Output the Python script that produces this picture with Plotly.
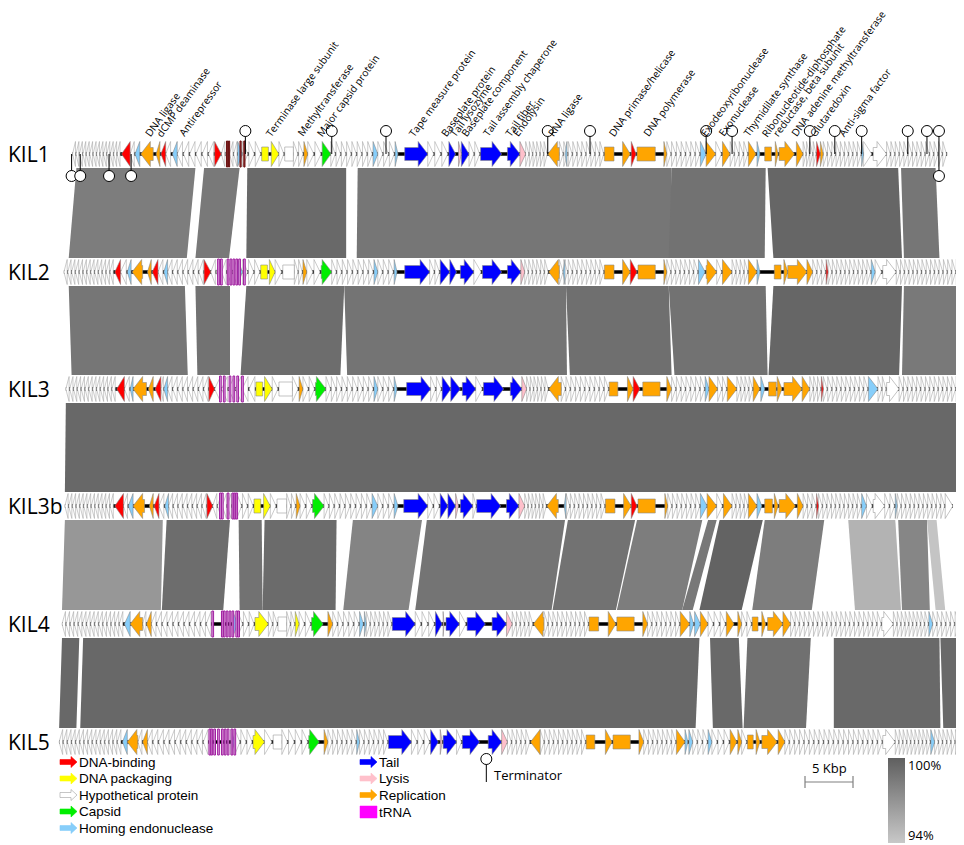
import plotly.graph_objects as go

# ---- genomes (positions in kbp) ----
genomes = ['KIL1', 'KIL2', 'KIL3', 'KIL3b', 'KIL4', 'KIL5']
genome_span = [(1.1, 92.2), (0.2, 93.6), (0.4, 93.6), (0.3, 92.8), (0.0, 93.5), (-0.3, 93.5)]

# annotated genes: (start, end, strand, category), strand 0 = drawn as box
kil1_genes = [
    (6.2, 7.1, -1, 'dna'), (7.6, 8.1, -1, 'hom'), (8.2, 9.5, -1, 'rep'), (9.8, 10.2, -1, 'rep'),
    (10.3, 10.8, -1, 'dna'), (11.5, 12.0, -1, 'hom'), (15.9, 16.6, 1, 'dna'), (18.3, 18.8, 1, 'hom'),
    (20.8, 21.5, 0, 'pack'), (21.8, 22.6, 1, 'pack'), (23.2, 24.1, 0, 'hyp'), (25.2, 25.6, 1, 'rep'),
    (27.1, 28.0, 1, 'cap'), (32.4, 32.9, 1, 'hom'), (34.7, 35.0, 1, 'hom'), (35.7, 38.1, 1, 'tail'),
    (40.3, 41.0, 1, 'tail'), (41.3, 41.6, 1, 'lys'), (41.6, 42.4, 1, 'tail'), (43.6, 45.8, 1, 'tail'),
    (46.4, 47.7, 1, 'tail'), (47.7, 48.3, 1, 'lys'), (50.6, 51.8, -1, 'rep'), (52.4, 52.6, -1, 'hom'),
    (56.5, 57.5, 0, 'rep'), (58.4, 59.2, 1, 'rep'), (59.3, 59.8, 1, 'dna'), (59.9, 61.8, 0, 'rep'),
    (62.7, 63.0, 1, 'rep'), (66.5, 67.1, 1, 'hom'), (67.1, 68.1, 1, 'rep'), (68.8, 69.6, 1, 'rep'),
    (71.5, 72.3, 1, 'rep'), (72.4, 72.7, 1, 'hom'), (73.2, 73.9, 0, 'rep'), (74.3, 74.6, 1, 'rep'),
    (74.7, 76.3, 1, 'rep'), (76.5, 77.2, 1, 'rep'), (78.6, 79.0, 1, 'dna'), (79.0, 79.3, 1, 'rep'),
    (83.3, 83.5, 1, 'hom'), (84.5, 85.9, 1, 'hyp'),
]
kil2_genes = [
    (5.5, 6.1, -1, 'dna'), (6.8, 7.2, -1, 'hom'), (7.3, 8.4, -1, 'rep'), (8.9, 9.3, -1, 'rep'),
    (9.4, 10.0, -1, 'dna'), (10.6, 11.0, -1, 'hom'), (14.8, 15.5, 1, 'dna'), (18.3, 18.8, 1, 'hom'),
    (20.7, 21.4, 0, 'pack'), (21.6, 22.2, 1, 'pack'), (23.0, 24.2, 0, 'hyp'), (25.1, 25.5, 1, 'rep'),
    (27.0, 28.1, 1, 'cap'), (32.5, 32.9, 1, 'hom'), (34.6, 34.9, 1, 'hom'), (35.7, 38.3, 1, 'tail'),
    (39.4, 40.4, 1, 'tail'), (40.4, 41.1, 1, 'tail'), (41.5, 42.9, 1, 'tail'), (43.8, 45.8, 1, 'tail'),
    (46.4, 47.8, 1, 'tail'), (47.8, 48.2, 1, 'lys'), (50.7, 51.8, -1, 'rep'), (52.2, 52.4, -1, 'hom'),
    (56.5, 57.5, 0, 'rep'), (58.4, 59.2, 1, 'rep'), (59.2, 59.9, 1, 'dna'), (60.0, 61.8, 0, 'rep'),
    (62.7, 63.0, 1, 'rep'), (66.3, 67.0, 1, 'hom'), (67.1, 68.2, 1, 'rep'), (68.8, 69.8, 1, 'rep'),
    (71.5, 72.4, 1, 'rep'), (72.4, 72.7, 1, 'hom'), (74.2, 74.9, 0, 'rep'), (75.2, 75.6, 1, 'rep'),
    (75.6, 77.6, 1, 'rep'), (77.6, 78.2, 1, 'rep'), (79.6, 79.8, 1, 'dna'), (84.3, 84.7, 1, 'hom'),
    (85.5, 86.9, 1, 'hyp'),
]
kil3_genes = [
    (5.7, 6.5, -1, 'dna'), (7.1, 7.4, -1, 'hom'), (7.4, 8.8, -1, 'rep'), (9.0, 9.5, -1, 'rep'),
    (9.7, 10.3, -1, 'dna'), (10.6, 11.0, -1, 'hom'), (15.3, 15.9, 1, 'dna'), (20.2, 20.9, 0, 'pack'),
    (21.1, 21.9, 1, 'pack'), (22.6, 24.0, 0, 'hyp'), (24.7, 25.1, 1, 'rep'), (26.4, 27.5, 1, 'cap'),
    (32.5, 32.9, 1, 'hom'), (34.6, 34.9, 1, 'hom'), (35.9, 38.4, 1, 'tail'), (39.6, 40.5, 1, 'tail'),
    (40.5, 41.5, 1, 'tail'), (41.7, 43.1, 1, 'tail'), (43.9, 46.0, 1, 'tail'), (46.7, 47.9, 1, 'tail'),
    (47.9, 48.4, 1, 'lys'), (50.7, 52.0, -1, 'rep'), (57.0, 57.9, 0, 'rep'), (58.9, 59.5, 1, 'rep'),
    (59.5, 60.2, 1, 'dna'), (60.5, 62.3, 0, 'rep'), (63.0, 63.5, 1, 'rep'), (67.0, 67.4, 1, 'hom'),
    (67.4, 68.3, 1, 'rep'), (69.3, 70.3, 1, 'rep'), (72.0, 72.7, 1, 'rep'), (72.8, 73.2, 1, 'hom'),
    (73.6, 74.4, 0, 'rep'), (74.5, 75.0, 1, 'rep'), (75.2, 77.1, 1, 'rep'), (77.1, 77.9, 1, 'rep'),
    (79.1, 79.3, 1, 'dna'), (84.0, 85.0, 1, 'hom'), (85.9, 87.2, 1, 'hyp'),
]
kil3b_genes = [
    (5.5, 6.4, -1, 'dna'), (6.9, 7.4, -1, 'hom'), (7.4, 8.6, -1, 'rep'), (9.1, 9.5, -1, 'rep'),
    (9.6, 10.1, -1, 'dna'), (10.7, 11.1, -1, 'hom'), (15.1, 15.7, 1, 'dna'), (17.7, 18.2, 1, 'hom'),
    (20.0, 20.7, 0, 'pack'), (21.0, 21.7, 1, 'pack'), (22.4, 23.4, 0, 'hyp'), (24.4, 24.8, 1, 'rep'),
    (26.1, 27.3, 1, 'cap'), (32.3, 32.9, 1, 'hom'), (34.6, 35.0, 1, 'hom'), (35.6, 38.1, 1, 'tail'),
    (39.4, 40.2, 1, 'tail'), (40.2, 41.0, 1, 'tail'), (41.0, 41.3, 1, 'lys'), (41.5, 42.8, 1, 'tail'),
    (43.2, 45.7, 1, 'tail'), (46.3, 47.6, 1, 'tail'), (47.6, 48.2, 1, 'lys'), (50.5, 51.7, -1, 'rep'),
    (52.3, 52.5, -1, 'hom'), (56.6, 57.6, 0, 'rep'), (58.5, 59.3, 1, 'rep'), (59.3, 59.9, 1, 'dna'),
    (60.0, 61.8, 0, 'rep'), (62.8, 63.1, 1, 'rep'), (66.5, 67.2, 1, 'hom'), (67.2, 68.2, 1, 'rep'),
    (68.9, 69.8, 1, 'rep'), (71.5, 72.4, 1, 'rep'), (72.4, 72.9, 1, 'hom'), (73.2, 74.0, 0, 'rep'),
    (74.2, 74.6, 1, 'rep'), (74.7, 76.4, 1, 'rep'), (76.6, 77.2, 1, 'rep'), (78.6, 78.8, 1, 'dna'),
    (83.3, 83.8, 1, 'hom'), (84.5, 85.7, 1, 'hyp'), (86.8, 87.0, 1, 'hom'), (92.0, 92.8, 1, 'hyp'),
]
kil4_genes = [
    (6.5, 7.1, -1, 'hom'), (7.1, 8.4, -1, 'rep'), (8.8, 9.3, -1, 'rep'), (17.8, 18.3, 1, 'hom'),
    (20.1, 21.5, 1, 'pack'), (22.5, 23.4, 0, 'hyp'), (24.3, 24.7, 1, 'pack'), (26.0, 27.2, 1, 'cap'),
    (27.7, 28.2, 1, 'rep'), (31.0, 31.4, 1, 'hom'), (31.5, 31.7, 1, 'hom'), (34.4, 36.8, 1, 'tail'),
    (38.9, 39.6, 1, 'tail'), (39.7, 39.8, 1, 'lys'), (40.0, 41.4, 1, 'tail'), (42.2, 44.1, 1, 'tail'),
    (44.8, 46.3, 1, 'tail'), (46.3, 46.9, 1, 'lys'), (49.1, 50.2, -1, 'rep'), (54.9, 55.9, 0, 'rep'),
    (56.9, 57.7, 1, 'rep'), (57.8, 59.6, 0, 'rep'), (60.5, 61.0, 1, 'rep'), (64.4, 65.4, 1, 'rep'),
    (65.4, 65.8, 1, 'hom'), (65.9, 66.5, 1, 'hom'), (66.5, 67.3, 1, 'rep'), (69.2, 70.0, 1, 'rep'),
    (70.4, 70.8, 1, 'rep'), (71.9, 72.5, 0, 'rep'), (72.9, 73.3, 1, 'rep'), (73.5, 75.1, 1, 'rep'),
    (75.1, 75.9, 1, 'rep'), (85.4, 86.6, 1, 'hyp'), (90.3, 90.7, 1, 'hom'),
]
kil5_genes = [
    (6.3, 6.8, -1, 'hom'), (6.8, 7.9, -1, 'rep'), (8.4, 8.9, -1, 'rep'), (17.6, 18.0, 1, 'hom'),
    (19.9, 21.1, 1, 'pack'), (22.0, 22.9, 0, 'hyp'), (25.7, 26.8, 1, 'cap'), (27.3, 27.7, 1, 'rep'),
    (30.7, 31.0, 1, 'hom'), (34.0, 36.4, 1, 'tail'), (38.4, 39.2, 1, 'tail'), (39.4, 39.6, 1, 'lys'),
    (39.7, 41.1, 1, 'tail'), (41.7, 43.5, 1, 'tail'), (44.4, 45.8, 1, 'tail'), (45.8, 46.4, 1, 'lys'),
    (48.8, 49.8, -1, 'rep'), (54.6, 55.5, 0, 'rep'), (56.6, 57.3, 1, 'rep'), (57.4, 59.2, 0, 'rep'),
    (60.1, 60.6, 1, 'rep'), (64.0, 64.9, 1, 'rep'), (64.9, 65.2, 1, 'hom'), (65.3, 65.7, 1, 'hom'),
    (67.3, 67.7, 1, 'hom'), (69.6, 70.3, 1, 'rep'), (70.4, 70.8, 1, 'rep'), (71.4, 72.0, 0, 'rep'),
    (72.3, 72.7, 1, 'rep'), (72.9, 74.5, 1, 'rep'), (74.6, 75.3, 1, 'rep'), (85.5, 86.8, 1, 'hyp'),
    (90.5, 90.9, 1, 'hom'),
]

# blocks of small hypothetical ORFs: (start, end, number of ORFs, strand)
kil1_orfs = [
    (1.1, 6.1, 14, -1), (7.1, 7.6, 1, -1), (10.8, 11.4, 1, -1), (12.0, 15.9, 6, -1), (16.6, 18.3, 4, -1),
    (18.8, 20.8, 3, 1), (22.6, 23.2, 1, 1), (24.1, 25.2, 2, 1), (25.6, 27.1, 2, 1), (28.0, 32.4, 8, 1),
    (32.9, 34.7, 3, 1), (38.1, 40.3, 3, 1), (42.4, 43.6, 2, 1), (48.3, 50.6, 6, 1), (51.8, 56.5, 10, 1),
    (63.0, 66.5, 7, 1), (68.1, 68.8, 1, 1), (69.6, 71.5, 4, 1), (77.2, 78.6, 4, 1), (79.3, 83.3, 9, 1),
    (83.5, 84.5, 1, 1), (85.9, 92.2, 14, 1),
]
kil2_orfs = [
    (0.2, 5.4, 13, -1), (6.1, 6.8, 1, -1), (10.0, 10.6, 1, -1), (11.0, 14.8, 7, -1), (15.5, 18.3, 5, -1),
    (18.8, 20.7, 3, 1), (22.2, 23.0, 1, 1), (24.2, 25.1, 2, 1), (25.5, 27.0, 2, 1), (28.1, 32.5, 8, 1),
    (32.9, 34.6, 3, 1), (38.3, 39.4, 2, 1), (42.9, 43.8, 1, 1), (48.2, 50.7, 6, 1), (51.8, 56.5, 10, 1),
    (63.0, 66.3, 7, 1), (68.2, 68.8, 1, 1), (69.8, 71.5, 4, 1), (78.2, 79.6, 3, 1), (79.8, 84.3, 10, 1),
    (84.7, 85.5, 1, 1), (86.9, 93.6, 15, 1),
]
kil3_orfs = [
    (0.4, 5.6, 13, -1), (6.5, 7.1, 1, -1), (10.3, 10.6, 1, -1), (11.0, 15.3, 8, -1), (15.9, 20.2, 6, -1),
    (21.9, 22.6, 1, 1), (24.0, 24.7, 1, 1), (25.1, 26.4, 2, 1), (27.5, 32.5, 9, 1), (32.9, 34.6, 3, 1),
    (38.4, 39.6, 2, 1), (43.1, 43.9, 1, 1), (48.4, 50.7, 6, 1), (52.0, 57.0, 10, 1), (63.5, 67.0, 7, 1),
    (68.3, 69.3, 2, 1), (70.3, 72.0, 4, 1), (77.9, 79.1, 3, 1), (79.3, 84.0, 10, 1), (85.0, 85.9, 2, 1),
    (87.2, 93.6, 14, 1),
]
kil3b_orfs = [
    (0.3, 5.4, 13, -1), (6.4, 6.9, 1, -1), (10.1, 10.7, 1, -1), (11.1, 15.1, 8, -1), (15.7, 17.7, 4, -1),
    (18.2, 20.0, 3, 1), (21.7, 22.4, 1, 1), (23.4, 24.4, 2, 1), (24.8, 26.1, 2, 1), (27.3, 32.3, 9, 1),
    (32.9, 34.6, 3, 1), (38.1, 39.4, 2, 1), (42.8, 43.2, 1, 1), (48.2, 50.5, 6, 1), (52.5, 56.6, 9, 1),
    (63.1, 66.5, 7, 1), (68.2, 68.9, 1, 1), (69.8, 71.5, 4, 1), (77.2, 78.6, 3, 1), (78.8, 83.3, 10, 1),
    (83.8, 84.5, 1, 1), (85.7, 86.8, 2, 1), (87.0, 92.0, 11, 1),
]
kil4_orfs = [
    (0.0, 6.4, 15, -1), (8.4, 8.8, 1, -1), (9.3, 15.6, 11, -1), (18.3, 20.1, 3, 1), (21.5, 22.5, 2, 1),
    (23.4, 24.3, 2, 1), (24.7, 26.0, 2, 1), (28.2, 31.0, 5, 1), (31.7, 34.4, 6, 1), (36.8, 38.9, 3, 1),
    (41.4, 42.2, 1, 1), (46.9, 49.1, 5, 1), (50.2, 54.9, 10, 1), (61.0, 64.4, 7, 1), (67.3, 69.2, 3, 1),
    (70.8, 71.9, 2, 1), (75.9, 85.4, 20, 1), (86.6, 90.3, 9, 1), (90.7, 93.5, 6, 1),
]
kil5_orfs = [
    (-0.3, 6.2, 15, -1), (7.9, 8.4, 1, -1), (8.9, 15.3, 11, -1), (18.0, 19.9, 3, 1), (21.1, 22.0, 1, 1),
    (22.9, 25.7, 4, 1), (27.7, 30.7, 6, 1), (31.0, 34.0, 6, 1), (36.4, 38.4, 3, 1), (41.1, 41.7, 1, 1),
    (46.4, 48.8, 5, 1), (49.8, 54.6, 10, 1), (60.6, 64.0, 7, 1), (65.7, 67.3, 3, 1), (67.7, 69.6, 3, 1),
    (70.8, 71.4, 1, 1), (75.3, 85.5, 20, 1), (86.8, 90.5, 9, 1), (90.9, 93.5, 6, 1),
]

# tRNA genes (kbp)
kil1_trna = [17.2, 17.4, 18.6, 19.0]
kil2_trna = [16.3, 16.6, 17.3, 17.6, 17.9, 18.2, 18.5, 19.0]
kil3_trna = [16.5, 16.9, 17.5, 17.9, 18.3, 18.8]
kil3b_trna = [16.5, 16.7, 17.3, 17.8, 18.0, 18.2]
kil4_trna = [15.7, 16.7, 16.9, 17.2, 17.5, 17.8, 18.2, 18.4]
kil5_trna = [15.4, 15.6, 15.9, 16.3, 16.7, 17.0, 17.3, 17.7, 18.0]

# terminators on KIL1 (kbp)
kil1_term_up = [19.1, 28.1, 33.75, 50.6, 55.0, 67.1, 69.8, 77.9, 80.5, 83.3, 88.1, 90.1, 91.35]
kil1_term_down = [1.0, 1.9, 4.9, 7.2, 91.35]
kil5_term = [44.2]

# blastn blocks between neighbouring genomes: (top start, top end, bottom start, bottom end, identity %)
blocks_1_2 = [(1.5, 13.9, 0.7, 13.0, 98.3), (14.8, 18.5, 13.9, 17.4, 98.5), (19.3, 29.6, 19.2, 29.6, 99.4),
              (30.8, 63.5, 30.7, 63.4, 98.7), (63.5, 73.3, 63.2, 73.2, 98.9), (73.5, 87.1, 74.1, 87.5, 99.6),
              (87.4, 91.0, 87.7, 91.4, 98.7)]
blocks_2_3 = [(0.7, 12.8, 1.0, 13.1, 98.7), (13.9, 17.5, 14.1, 17.5, 98.9), (19.2, 29.4, 18.6, 29.0, 99.2),
              (29.4, 52.5, 29.7, 52.6, 98.8), (52.5, 63.2, 52.9, 63.5, 99.1), (63.2, 73.3, 63.8, 73.5, 98.9),
              (74.1, 87.5, 73.6, 87.2, 99.6), (87.7, 93.6, 87.5, 93.6, 98.5)]
blocks_3_3b = [(0.4, 93.6, 0.3, 93.6, 99.5)]
blocks_3b_4 = [(0.3, 10.5, 0.0, 10.3, 96.8), (10.9, 17.5, 10.4, 16.8, 99.2), (18.4, 20.8, 18.5, 20.9, 98.9),
               (21.1, 28.6, 20.9, 28.5, 99.3), (30.3, 37.5, 29.3, 36.1, 97.9), (38.0, 52.4, 36.8, 51.0, 98.8),
               (52.7, 59.7, 51.1, 57.7, 98.9), (59.9, 66.7, 57.8, 64.6, 98.3), (67.3, 68.2, 64.6, 65.7, 98.6),
               (68.5, 73.0, 66.4, 70.8, 99.8), (73.2, 79.4, 71.9, 78.1, 98.3), (81.9, 86.8, 82.6, 87.4, 95.2),
               (87.1, 90.1, 87.5, 90.4, 97.8), (90.1, 91.1, 91.0, 92.0, 94.2)]
blocks_4_5 = [(0.0, 1.8, -0.3, 1.5, 99.5), (2.2, 66.4, 1.9, 66.0, 99.5), (67.5, 70.5, 67.8, 70.9, 99.4),
              (71.4, 78.0, 71.0, 77.5, 99.0), (80.4, 91.4, 80.4, 91.5, 99.4), (91.5, 93.5, 91.8, 93.5, 99.4)]

# gene function labels above KIL1: (position kbp, text)
label_pos = [9.2, 10.3, 12.7, 21.7, 25.0, 27.1, 36.6, 40.0, 40.9, 42.1, 44.3, 46.7, 47.5, 51.1,
             57.4, 61.0, 67.0, 68.9, 71.5, 73.4, 74.6, 76.4, 78.4, 81.4]
label_text = ['DNA ligase', 'dCMP deaminase', 'Antirepressor', 'Terminase large subunit', 'Methyltransferase',
              'Major capsid protein', 'Tape measure protein', 'Baseplate protein', 'Tail lysozyme',
              'Baseplate component', 'Tail assembly chaperone', 'Tail fiber', 'Endolysin', 'RNA ligase',
              'DNA primase/helicase', 'DNA polymerase', 'Exodeoxyribonuclease', 'Exonuclease',
              'Thymidilate synthase', 'Ribonucleotide-diphosphate', 'reductase, beta subunit',
              'DNA adenine methyltransferase', 'Glutaredoxin', 'Anti-sigma factor']

legend_left = [('DNA-binding', 'dna'), ('DNA packaging', 'pack'), ('Hypothetical protein', 'hyp'),
               ('Capsid', 'cap'), ('Homing endonuclease', 'hom')]
legend_right = [('Tail', 'tail'), ('Lysis', 'lys'), ('Replication', 'rep')]

cat_color = {'dna': '#ff0000', 'pack': '#ffff00', 'hyp': '#ffffff', 'cap': '#00ee00',
             'hom': '#87cefa', 'tail': '#0000ff', 'lys': '#ffc0cb', 'rep': '#ffa500'}

all_genes = [kil1_genes, kil2_genes, kil3_genes, kil3b_genes, kil4_genes, kil5_genes]
all_orfs = [kil1_orfs, kil2_orfs, kil3_orfs, kil3b_orfs, kil4_orfs, kil5_orfs]
all_trna = [kil1_trna, kil2_trna, kil3_trna, kil3b_trna, kil4_trna, kil5_trna]
all_blocks = [blocks_1_2, blocks_2_3, blocks_3_3b, blocks_3b_4, blocks_4_5]

# ---- layout helpers (page px; the page body adds an 8 px margin; 5 kbp = 48 px) ----
PAGE_W, PAGE_H, OFF = 964, 845, 8
FIG_W, FIG_H = PAGE_W - OFF, PAGE_H - OFF
track_y = [154, 272, 389, 506, 624, 742]
X0, PX_PER_KBP = 62, 9.6
def px(x):
    return (x - X0) / PX_PER_KBP

def arrow(s, e, strand, y, body=6.5, head=12.5, hl=1.0):
    if strand == 0:
        return [s, e, e, s, s], [y - 7, y - 7, y + 7, y + 7, y - 7]
    a, b, d = (s, e, 1) if strand > 0 else (e, s, -1)
    if e - s <= hl:
        return [a, b, a, a], [y - head, y, y + head, y - head]
    n = b - d * hl
    return ([a, n, n, b, n, n, a, a],
            [y - body, y - body, y - head, y, y + head, y + body, y + body, y - body])

def grey(identity):
    g = int(round(95 + (100 - identity) / 6 * 105))
    g = max(95, min(200, g))
    return 'rgb(%d,%d,%d)' % (g, g, g)

fig = go.Figure()

# similarity blocks
for i, blocks in enumerate(all_blocks):
    yt, yb = track_y[i] + 14, track_y[i + 1] - 14
    for t1, t2, b1, b2, ident in blocks:
        fig.add_trace(go.Scatter(x=[t1, t2, b2, b1, t1], y=[yt, yt, yb, yb, yt], mode='lines',
                                 fill='toself', fillcolor=grey(ident), line=dict(width=0),
                                 hoverinfo='skip', showlegend=False))

# genome tracks
for i, name in enumerate(genomes):
    y = track_y[i]
    s, e = genome_span[i]
    fig.add_trace(go.Scatter(x=[s, e], y=[y, y], mode='lines', line=dict(color='black', width=3.5),
                             hoverinfo='skip', showlegend=False))
    # hypothetical ORFs
    hx, hy = [], []
    for a, b, n, strand in all_orfs[i]:
        w = (b - a) / n
        for k in range(n):
            xs, ys = arrow(a + k * w, a + k * w + 0.85 * w, strand, y)
            hx += xs + [None]
            hy += ys + [None]
    fig.add_trace(go.Scatter(x=hx, y=hy, mode='lines', fill='toself', fillcolor='white',
                             line=dict(color='#a8a8a8', width=0.6), hoverinfo='skip', showlegend=False))
    # annotated genes by category
    for cat, col in cat_color.items():
        gx, gy = [], []
        for a, b, strand, c in all_genes[i]:
            if c != cat:
                continue
            xs, ys = arrow(a, b, strand, y)
            gx += xs + [None]
            gy += ys + [None]
        if gx:
            fig.add_trace(go.Scatter(x=gx, y=gy, mode='lines', fill='toself', fillcolor=col,
                                     line=dict(color='#9a9a9a' if cat == 'hyp' else '#8a8a8a', width=0.6),
                                     hoverinfo='skip', showlegend=False))
    # tRNAs
    tcol, tline, tw = ('#a04040', '#6b1010', 0.06) if i == 0 else ('#dca0dc', '#a020a0', 0.09)
    tx, ty = [], []
    for t in all_trna[i]:
        tx += [t - tw, t + tw, t + tw, t - tw, t - tw, None]
        ty += [y - 13, y - 13, y + 13, y + 13, y - 13, None]
    fig.add_trace(go.Scatter(x=tx, y=ty, mode='lines', fill='toself', fillcolor=tcol,
                             line=dict(color=tline, width=1), hoverinfo='skip', showlegend=False))
    fig.add_annotation(x=0, xref='paper', y=y, yref='y', text=name, showarrow=False, xanchor='left',
                       yanchor='middle', xshift=-2, font=dict(family='Open Sans', size=21, color='black'))

# terminators
y1 = track_y[0]
sx, sy, cx, cy = [], [], [], []
for t in kil1_term_up:
    sx += [t, t, None]; sy += [y1, y1 - 22, None]; cx.append(t); cy.append(y1 - 23)
for t in kil1_term_down:
    sx += [t, t, None]; sy += [y1, y1 + 20, None]; cx.append(t); cy.append(y1 + 22)
y5 = track_y[5]
for t in kil5_term:
    sx += [t, t, None]; sy += [y5 + 17, y5 + 40, None]; cx.append(t); cy.append(y5 + 17)
fig.add_trace(go.Scatter(x=sx, y=sy, mode='lines', line=dict(color='black', width=1),
                         hoverinfo='skip', showlegend=False))
fig.add_trace(go.Scatter(x=cx, y=cy, mode='markers', hoverinfo='skip', showlegend=False,
                         marker=dict(symbol='circle', size=11, color='white', line=dict(color='black', width=1))))
fig.add_annotation(x=kil5_term[0], y=y5 + 33, text='Terminator', showarrow=False, xanchor='left',
                   yanchor='middle', xshift=6, font=dict(family='Open Sans', size=13, color='black'))

# function labels
for pos, txt in zip(label_pos, label_text):
    fig.add_annotation(x=pos, y=142, text=txt, showarrow=False, textangle=-54, xanchor='left',
                       yanchor='bottom', xshift=-11, font=dict(family='Open Sans', size=10.2, color='black'))

# legend
def legend_item(x0, y, txt, col, border):
    xs, ys = arrow(px(x0), px(x0 + 17), 1, y, body=2.5, head=5.5, hl=6 / PX_PER_KBP)
    fig.add_trace(go.Scatter(x=xs, y=ys, mode='lines', fill='toself', fillcolor=col,
                             line=dict(color=border, width=0.6), hoverinfo='skip', showlegend=False))
    fig.add_annotation(x=px(x0 + 17), y=y, text=txt, showarrow=False, xanchor='left', yanchor='middle',
                       xshift=0, font=dict(family='Liberation Sans', size=13.5, color='black'))

for k, (txt, cat) in enumerate(legend_left):
    legend_item(60, 762 + k * 16.5, txt, cat_color[cat], '#a0a0a0' if cat == 'hyp' else cat_color[cat])
for k, (txt, cat) in enumerate(legend_right):
    legend_item(360, 762 + k * 16.5, txt, cat_color[cat], cat_color[cat])
fig.add_trace(go.Scatter(x=[px(360), px(377), px(377), px(360), px(360)], y=[806, 806, 818, 818, 806],
                         mode='lines', fill='toself', fillcolor='#ff00ff', line=dict(color='#ff00ff', width=0.5),
                         hoverinfo='skip', showlegend=False))
fig.add_annotation(x=px(377), y=812, text='tRNA', showarrow=False, xanchor='left', yanchor='middle',
                   font=dict(family='Liberation Sans', size=13.5, color='black'))

# scale bar (5 kbp)
sb0, sb1 = px(805), px(805) + 5
fig.add_trace(go.Scatter(x=[sb0, sb0, None, sb0, sb1, None, sb1, sb1], y=[776, 788, None, 782, 782, None, 776, 788],
                         mode='lines', line=dict(color='#808080', width=1.2), hoverinfo='skip', showlegend=False))
fig.add_annotation(x=(sb0 + sb1) / 2, y=768, text='5 Kbp', showarrow=False, xanchor='center', yanchor='middle',
                   font=dict(family='Open Sans', size=13, color='black'))

# identity gradient
fig.add_trace(go.Scatter(x=[-20, -20], y=[-20, -20], mode='markers', hoverinfo='skip', showlegend=False,
                         marker=dict(color=[94, 100], cmin=94, cmax=100, size=1,
                                     colorscale=[[0, '#c8c8c8'], [1, '#5f5f5f']], showscale=True,
                                     colorbar=dict(thickness=17, thicknessmode='pixels', len=85, lenmode='pixels',
                                                   x=(888 - OFF) / FIG_W, xanchor='left',
                                                   y=1 - (800.5 - OFF) / FIG_H, yanchor='middle',
                                                   outlinewidth=0, ticks='', tickvals=[99.45, 94.55],
                                                   ticktext=['100%', '94%'], xpad=0, ypad=0,
                                                   tickfont=dict(family='Open Sans', size=13, color='black')))))

fig.update_layout(width=FIG_W, height=FIG_H, margin=dict(l=0, r=0, t=0, b=0), plot_bgcolor='white',
                  paper_bgcolor='white', showlegend=False)
fig.update_xaxes(range=[px(OFF), px(PAGE_W)], visible=False, fixedrange=True)
fig.update_yaxes(range=[PAGE_H, OFF], visible=False, fixedrange=True)

fig.write_html("out.html")
